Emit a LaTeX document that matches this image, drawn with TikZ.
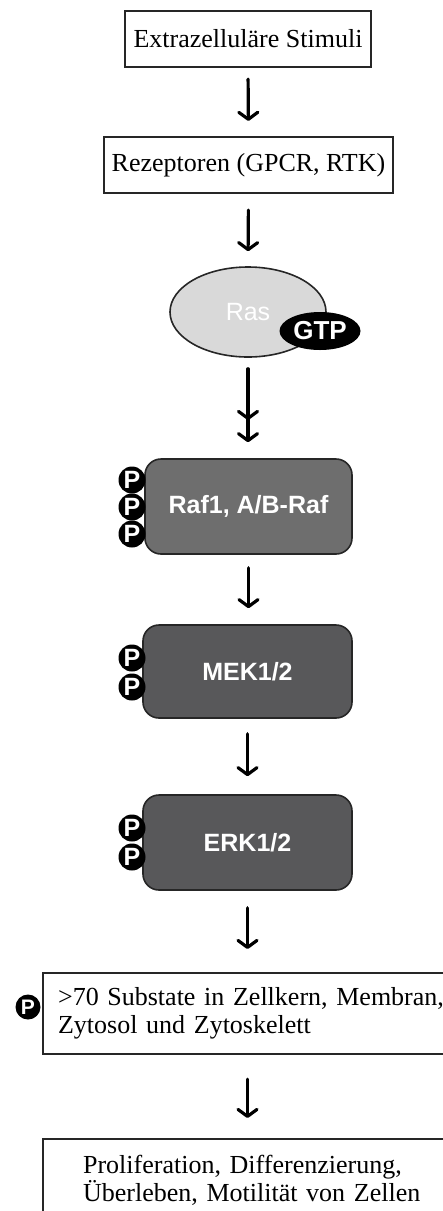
\documentclass[tikz,border=0pt]{standalone}
\usepackage{fontspec}
\setmainfont{Liberation Serif}
\newfontfamily\hv{Liberation Sans}
\usetikzlibrary{shapes.geometric,arrows.meta}
\definecolor{rasgray}{HTML}{D9D9D9}
\definecolor{rafgray}{HTML}{6E6E6E}
\definecolor{kingray}{HTML}{58585A}
\definecolor{edge}{HTML}{262626}
\begin{document}
\begin{tikzpicture}[x=1pt,y=-1pt,
  textbox/.style={draw=edge, line width=2.2pt, fill=white, inner sep=0pt,
    font=\fontsize{26}{28}\selectfont},
  kinase/.style={draw=edge, line width=1.6pt, rounded corners=16pt, text=white,
    inner sep=0pt, minimum width=207pt, minimum height=95pt,
    font=\hv\bfseries\fontsize{25}{30}\selectfont},
  phos/.style={circle, fill=black, inner sep=0pt, minimum size=27pt, text=white,
    font=\hv\bfseries\fontsize{25}{25}\selectfont},
  flow/.style={line width=3.2pt, line cap=round,
    -{Straight Barb[length=7pt,width=19pt,line cap=round,line join=round]}},
  flowtwo/.style={line width=3.2pt, line cap=round,
    -{Straight Barb[length=7pt,width=19pt,sep=12pt,line cap=round,line join=round]%
      Straight Barb[length=7pt,width=19pt,line cap=round,line join=round]}}
]
\useasboundingbox (0,0) rectangle (443,1211);

% input and receptor boxes
\node[textbox, minimum width=246pt, minimum height=56pt] (stim) at (248,39)
  {Extrazelluläre Stimuli};
\node[textbox, minimum width=289pt, minimum height=56pt] (rez) at (248.5,165)
  {Rezeptoren (GPCR, RTK)};

% Ras with bound GTP
\node[ellipse, draw=edge, line width=1.6pt, fill=rasgray, inner sep=0pt,
  minimum width=156pt, minimum height=90pt, text=white,
  font=\hv\fontsize{25}{25}\selectfont] (ras) at (248,312) {Ras};
\node[ellipse, fill=black, inner sep=0pt, minimum width=81pt, minimum height=38pt,
  text=white, font=\hv\bfseries\fontsize{26}{26}\selectfont] (gtp) at (320,331) {GTP};

% kinase cascade
\node[kinase, fill=rafgray] (raf) at (248.5,506.5) {Raf1, A/B-Raf};
\node[phos] (rp1) at (132,480) {P};
\node[phos] (rp2) at (132,507) {P};
\node[phos] (rp3) at (132,534) {P};

\node[kinase, fill=kingray, minimum width=209pt, minimum height=93pt] (mek) at (247.5,671.5) {MEK1/2};
\node[phos] (mp1) at (132,658) {P};
\node[phos] (mp2) at (132,687) {P};

\node[kinase, fill=kingray, minimum width=209pt] (erk) at (247.5,842.5) {ERK1/2};
\node[phos] (ep1) at (132,828) {P};
\node[phos] (ep2) at (132,857) {P};

% substrates and cellular outcome (boxes run past the right margin)
\node[textbox, anchor=north west, minimum width=418pt, minimum height=81pt,
  inner xsep=15pt, text width=388pt, align=left] (sub) at (42,972)
  {>70 Substate in Zellkern, Membran,\\Zytosol und Zytoskelett};
\node[phos, minimum size=25pt, font=\hv\bfseries\fontsize{21}{21}\selectfont] (sp) at (28,1007) {P};

\node[textbox, anchor=north west, minimum width=418pt, minimum height=82pt,
  inner xsep=40pt, text width=338pt, align=left] (out) at (42,1138)
  {Proliferation, Differenzierung,\\Überleben, Motilität von Zellen};

% signal flow
\draw[flow, shorten <=11pt, shorten >=15pt] (stim.south) -- (rez.north);
\draw[flow, shorten <=16pt, shorten >=15pt] (rez.south) -- (ras.north);
\draw[flowtwo, shorten <=11pt, shorten >=16pt] (ras.south) -- (ras.south |- raf.north);
\draw[flow, shorten <=13pt, shorten >=16pt] (raf.south) -- (raf.south |- mek.north);
\draw[flow, shorten <=15pt, shorten >=18pt] (mek.south) -- (mek.south |- erk.north);
\draw[flow, shorten <=17pt, shorten >=23pt] (erk.south) -- (erk.south |- sub.north);
\draw[flow, shorten <=24pt, shorten >=20pt] (erk.south |- sub.south) -- (erk.south |- out.north);
\end{tikzpicture}
\end{document}
